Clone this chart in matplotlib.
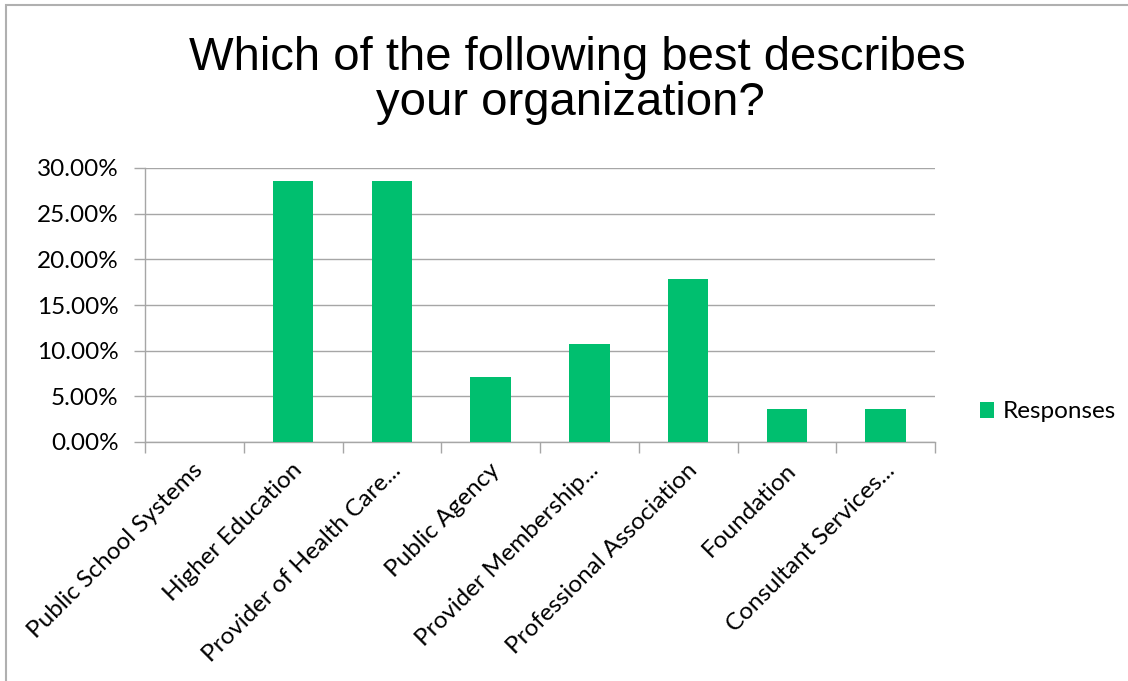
import matplotlib.pyplot as plt
from matplotlib.patches import Rectangle
from matplotlib.ticker import FuncFormatter, MultipleLocator

categories = ["Public School Systems", "Higher Education", "Provider of Health Care...",
              "Public Agency", "Provider Membership...", "Professional Association",
              "Foundation", "Consultant Services..."]
responses = [0.0, 28.57, 28.57, 7.14, 10.71, 17.86, 3.57, 3.57]
title_lines = ["Which of the following best describes", "your organization?"]

bar_color = "#00BF6F"
grid_color = "#A6A6A6"
label_font = ["Lato", "DejaVu Sans"]
label_size = 17.5

W, H = 1128, 681
fig = plt.figure(figsize=(W / 100, H / 100), dpi=100)
ax = fig.add_axes([145 / W, 1 - 442 / H, 790 / W, 274 / H])

x = range(len(categories))
ax.bar(x, responses, width=0.41, color=bar_color, zorder=3, label="Responses")

ax.set_xlim(-0.5, len(categories) - 0.5)
ax.set_ylim(0, 30)
ax.yaxis.set_major_locator(MultipleLocator(5))
ax.yaxis.set_major_formatter(FuncFormatter(lambda v, p: f"{v:.2f}%"))
ax.grid(axis="y", color=grid_color, linewidth=1, zorder=0)

for s in ["top", "right"]:
    ax.spines[s].set_visible(False)
for s in ["left", "bottom"]:
    ax.spines[s].set_color(grid_color)
    ax.spines[s].set_linewidth(1)

# category ticks sit on the boundaries between bars
ax.set_xticks([i - 0.5 for i in range(len(categories) + 1)])
ax.set_xticklabels([])
ax.tick_params(axis="x", length=8, color=grid_color, width=1)
ax.tick_params(axis="y", length=8, color=grid_color, width=1, labelsize=label_size, pad=11)
for lbl in ax.get_yticklabels():
    lbl.set_family(label_font)

for i, name in enumerate(categories):
    ax.text(i - 0.02, -1.9, name, rotation=45, rotation_mode="anchor",
            ha="right", va="top", fontsize=label_size, family=label_font)

# two title lines, each centred on its own
for line, cx, base in zip(title_lines, [577, 570], [70, 115]):
    fig.text(cx / W, 1 - base / H, line, ha="center", va="baseline", fontsize=34,
             family=["Liberation Sans", "DejaVu Sans"])

fig.legend(loc="center left", bbox_to_anchor=(958 / W, 1 - 412 / H),
           frameon=False, handlelength=0.6, handleheight=0.6, handletextpad=0.35,
           prop={"family": label_font, "size": label_size})

# outer chart border
fig.add_artist(Rectangle((6 / W, -0.01), 1.02, 1 - 5 / H + 0.01, transform=fig.transFigure,
                         fill=False, edgecolor="#B0B0B0", linewidth=1.5))

fig.savefig("out.png", dpi=100)
